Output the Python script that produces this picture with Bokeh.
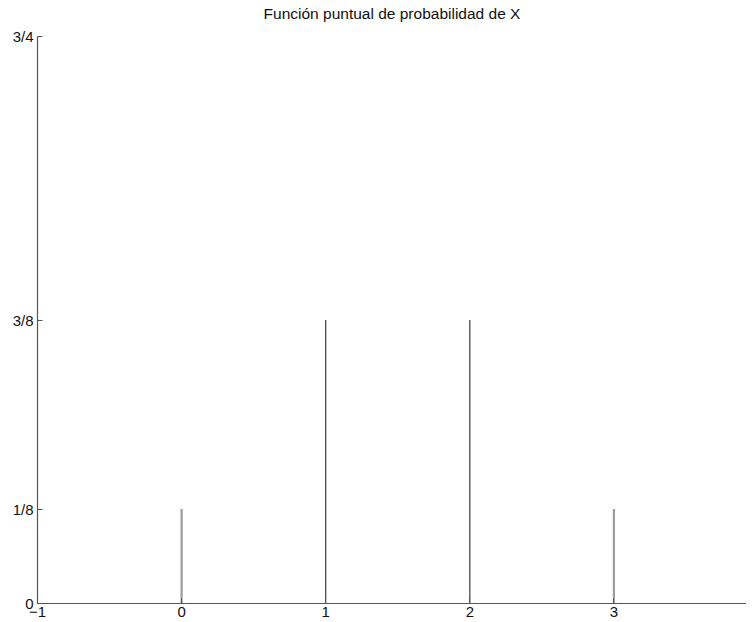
from bokeh.plotting import figure
from bokeh.models import ColumnDataSource, FixedTicker, Range1d
from bokeh.embed import file_html
from bokeh.resources import INLINE

# data
x_values = [0, 1, 2, 3]
probabilities = [0.125, 0.375, 0.375, 0.125]
x_ticks = [-1, 0, 1, 2, 3, 4]
x_tick_labels = ["\u22121", "0", "1", "2", "3", "4"]
y_ticks = [0, 0.125, 0.375, 0.75]
y_tick_labels = ["0", "1/8", "3/8", "3/4"]
title_text = "Funci\u00f3n puntual de probabilidad de X"

# styles (separate from data)
bar_colors = ["#9c9c9c", "#3a3a3a", "#3a3a3a", "#9c9c9c"]
bar_widths = [2.2, 1.2, 1.2, 2.2]

FONT = "Liberation Sans"

p = figure(width=746, height=622, output_backend="svg", toolbar_location=None,
           x_range=Range1d(-1, 3.92), y_range=Range1d(0, 0.75),
           min_border_left=37, min_border_right=0, min_border_top=36,
           min_border_bottom=19, title=title_text)
p.outline_line_color = None
p.grid.visible = False
p.background_fill_color = "white"
p.border_fill_color = "white"

p.title.align = "center"
p.title.text_font = FONT
p.title.text_font_size = "15.5px"
p.title.text_font_style = "normal"
p.title.text_color = "#111111"
p.title.standoff = 4
p.title.padding = dict(left=0, right=0, top=0, bottom=13)

src = ColumnDataSource(dict(x=x_values, p=probabilities,
                            zero=[0] * len(x_values),
                            color=bar_colors, lw=bar_widths))
p.segment(x0="x", y0="zero", x1="x", y1="p", source=src,
          line_color="color", line_width="lw")

for ax in (p.xaxis[0], p.yaxis[0]):
    ax.axis_line_color = "#555555"
    ax.axis_line_width = 1.2
    ax.major_tick_line_color = "#555555"
    ax.major_tick_in = 5
    ax.major_tick_out = 0
    ax.minor_tick_line_color = None
    ax.major_label_text_font = FONT
    ax.major_label_text_font_size = "15px"
    ax.major_label_text_color = "#111111"

p.xaxis[0].ticker = FixedTicker(ticks=x_ticks)
p.xaxis[0].major_label_overrides = {t: l for t, l in zip(x_ticks, x_tick_labels)}
p.xaxis[0].major_label_standoff = 3
p.yaxis[0].ticker = FixedTicker(ticks=y_ticks)
p.yaxis[0].major_label_overrides = {t: l for t, l in zip(y_ticks, y_tick_labels)}
p.yaxis[0].major_label_standoff = 4

open("out.html", "w").write(file_html(p, INLINE))
